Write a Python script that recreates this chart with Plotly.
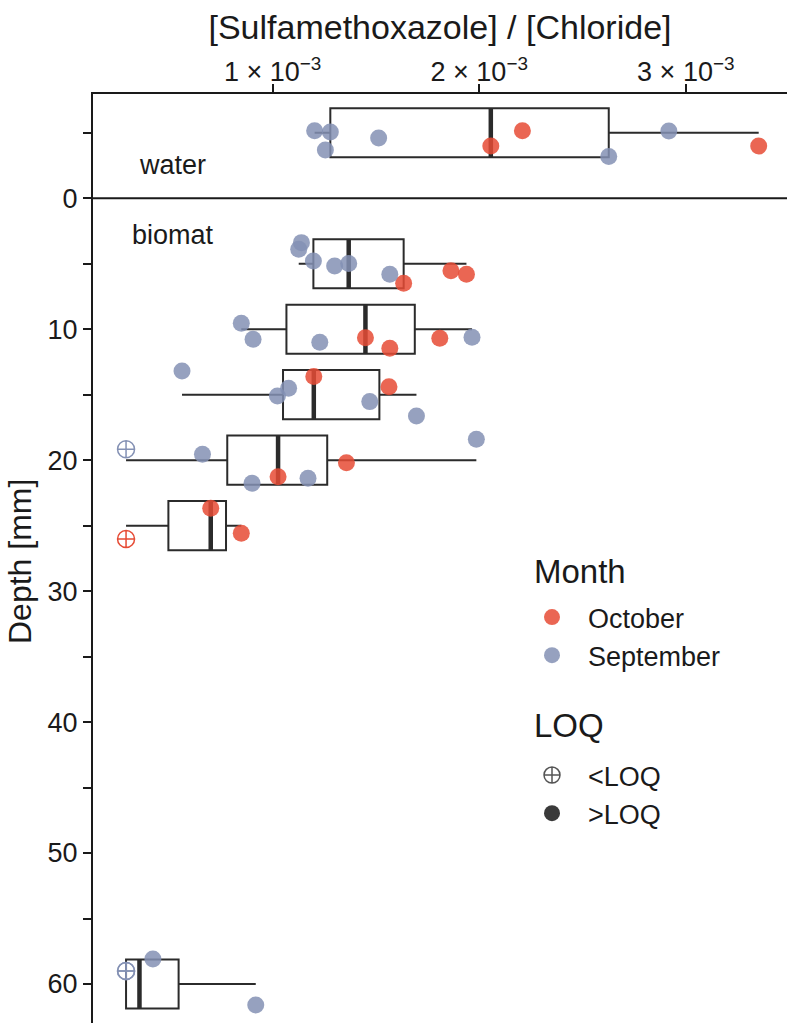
import numpy as np
import plotly.graph_objects as go

# ---------------- data ----------------
# group centre positions on the depth axis (water is drawn above the surface)
group_names = ["water", "5 mm", "10 mm", "15 mm", "20 mm", "25 mm", "60 mm"]
group_depth = [-5, 5, 10, 15, 20, 25, 60]

# individual samples: group, ratio, plotted (jittered) depth, month, LOQ flag
pt_group = (["water"] * 9 + ["5 mm"] * 9 + ["10 mm"] * 7 + ["15 mm"] * 7
            + ["20 mm"] * 7 + ["25 mm"] * 3 + ["60 mm"] * 4)
pt_ratio = [
    1.203e-3, 1.279e-3, 1.255e-3, 1.513e-3, 2.627e-3, 2.918e-3, 2.056e-3, 2.209e-3, 3.353e-3,
    1.139e-3, 1.126e-3, 1.197e-3, 1.300e-3, 1.368e-3, 1.567e-3, 1.634e-3, 1.863e-3, 1.938e-3,
    0.848e-3, 0.905e-3, 1.228e-3, 1.965e-3, 1.449e-3, 1.567e-3, 1.809e-3,
    0.561e-3, 1.023e-3, 1.077e-3, 1.470e-3, 1.696e-3, 1.199e-3, 1.563e-3,
    0.290e-3, 0.660e-3, 0.900e-3, 1.171e-3, 1.986e-3, 1.026e-3, 1.357e-3,
    0.290e-3, 0.700e-3, 0.848e-3,
    0.290e-3, 0.290e-3, 0.420e-3, 0.918e-3,
]
pt_depth = [
    -5.16, -5.06, -3.69, -4.60, -3.18, -5.14, -3.99, -5.16, -3.99,
    3.39, 3.89, 4.79, 5.17, 4.99, 5.80, 6.49, 5.53, 5.80,
    9.55, 10.77, 11.00, 10.61, 10.65, 11.45, 10.69,
    13.19, 15.10, 14.51, 15.53, 16.62, 13.62, 14.39,
    19.17, 19.55, 21.76, 21.38, 18.40, 21.26, 20.19,
    26.02, 23.67, 25.58,
    59.01, 59.01, 58.09, 61.60,
]
pt_month = (["September"] * 6 + ["October"] * 3
            + ["September"] * 6 + ["October"] * 3
            + ["September"] * 4 + ["October"] * 3
            + ["September"] * 5 + ["October"] * 2
            + ["September"] * 5 + ["October"] * 2
            + ["October"] * 3
            + ["September"] * 4)
pt_loq = ([">LOQ"] * 9 + [">LOQ"] * 9 + [">LOQ"] * 7 + [">LOQ"] * 7
          + ["<LOQ"] + [">LOQ"] * 6
          + ["<LOQ"] + [">LOQ"] * 2
          + ["<LOQ"] * 2 + [">LOQ"] * 2)

x_tick_vals = [1e-3, 2e-3, 3e-3]
x_tick_text = ["1 × 10<sup>−3</sup>", "2 × 10<sup>−3</sup>", "3 × 10<sup>−3</sup>"]
y_tick_vals = [0, 10, 20, 30, 40, 50, 60]
y_tick_text = ["0", "10", "20", "30", "40", "50", "60"]
y_minor_vals = [-5, 5, 15, 25, 35, 45, 55]

month_colors = {"October": "#E64B35", "September": "#8491B4"}

FONT = "Liberation Sans, Arial, Helvetica, sans-serif"
INK = "#1a1a1a"
BOX_W = 3.75

# plot-area geometry (px) used to place legend blocks
L, R, T, B = 93, 8, 94, 0
PW, PH = 795 - L - R, 1023 - T - B


def px_to_paper(xp, yp):
    return (xp - L) / PW, 1 - (yp - T) / PH


# ---------------- box statistics (ggplot style) ----------------
ratio = np.array(pt_ratio)
groups = np.array(pt_group)
q1s, meds, q3s, los, his = [], [], [], [], []
for g in group_names:
    v = np.sort(ratio[groups == g])
    q1, med, q3 = np.percentile(v, [25, 50, 75])
    iqr = q3 - q1
    lo = v[v >= q1 - 1.5 * iqr].min()
    hi = v[v <= q3 + 1.5 * iqr].max()
    q1s.append(q1); meds.append(med); q3s.append(q3); los.append(lo); his.append(hi)

fig = go.Figure()

fig.add_trace(go.Box(
    y=group_depth, q1=q1s, median=meds, q3=q3s, lowerfence=los, upperfence=his,
    orientation="h", width=BOX_W, whiskerwidth=0, boxpoints=False,
    fillcolor="rgba(255,255,255,0)", line=dict(color="#2b2b2b", width=2),
    showlegend=False, hoverinfo="skip",
))

# thick median bars
mx, my = [], []
for d, m in zip(group_depth, meds):
    mx += [m, m, None]
    my += [d - BOX_W / 2, d + BOX_W / 2, None]
fig.add_trace(go.Scatter(x=mx, y=my, mode="lines", line=dict(color="#2b2b2b", width=4.5),
                         showlegend=False, hoverinfo="skip"))

# points
month_arr = np.array(pt_month)
loq_arr = np.array(pt_loq)
depth_arr = np.array(pt_depth)
for loq in [">LOQ", "<LOQ"]:
    for month in ["October", "September"]:
        sel = (month_arr == month) & (loq_arr == loq)
        if not sel.any():
            continue
        filled = loq == ">LOQ"
        fig.add_trace(go.Scatter(
            x=ratio[sel], y=depth_arr[sel], mode="markers",
            name=month, legend="legend", showlegend=filled,
            marker=dict(
                size=17,
                symbol="circle" if filled else "circle-cross-open",
                color=month_colors[month],
                opacity=0.85 if filled else 1.0,
                line=dict(width=0 if filled else 1.5, color=month_colors[month]),
            ),
            hoverinfo="skip",
        ))

# LOQ legend keys
fig.add_trace(go.Scatter(x=[None], y=[None], mode="markers", name="<LOQ", legend="legend2",
                         marker=dict(size=17, symbol="circle-cross-open", color="#555555",
                                     line=dict(width=1.5, color="#555555"))))
fig.add_trace(go.Scatter(x=[None], y=[None], mode="markers", name=">LOQ", legend="legend2",
                         marker=dict(size=17, symbol="circle", color="#3a3a3a")))

# surface line
fig.add_shape(type="line", xref="paper", x0=0, x1=1, yref="y", y0=0, y1=0,
              line=dict(color=INK, width=2))

fig.add_annotation(x=0.341e-3, y=-2.54, text="water", showarrow=False, xanchor="left",
                   yanchor="middle", font=dict(family=FONT, size=27, color=INK))
fig.add_annotation(x=0.307e-3, y=2.8, text="biomat", showarrow=False, xanchor="left",
                   yanchor="middle", font=dict(family=FONT, size=27, color=INK))

ax, ay = px_to_paper(20, 562)
fig.add_annotation(xref="paper", yref="paper", x=ax, y=ay, text="Depth [mm]",
                   textangle=-90, showarrow=False, xanchor="center", yanchor="middle",
                   font=dict(family=FONT, size=32, color=INK))

# legend titles
tx, ty = px_to_paper(532, 571)
fig.add_annotation(xref="paper", yref="paper", x=tx, y=ty, text="Month", showarrow=False,
                   xanchor="left", yanchor="middle", font=dict(family=FONT, size=33, color=INK))
tx, ty = px_to_paper(532, 725)
fig.add_annotation(xref="paper", yref="paper", x=tx, y=ty, text="LOQ", showarrow=False,
                   xanchor="left", yanchor="middle", font=dict(family=FONT, size=33, color=INK))

lx1, ly1 = px_to_paper(516, 593)
lx2, ly2 = px_to_paper(516, 751)

fig.update_layout(
    width=795, height=1023,
    margin=dict(l=L, r=R, t=T, b=B),
    plot_bgcolor="white", paper_bgcolor="white",
    boxmode="overlay",
    font=dict(family=FONT, size=26, color=INK),
    xaxis=dict(
        side="top", range=[0.13e-3, 3.49e-3],
        tickvals=x_tick_vals, ticktext=x_tick_text,
        ticks="outside", ticklen=8, tickwidth=2, tickcolor=INK,
        ticklabelstandoff=-8,
        showline=True, linecolor=INK, linewidth=2,
        showgrid=False, zeroline=False,
        tickfont=dict(family=FONT, size=27, color=INK),
        title=dict(text="[Sulfamethoxazole] / [Chloride]",
                   font=dict(family=FONT, size=34, color=INK), standoff=3),
    ),
    yaxis=dict(
        range=[62.98, -7.96],
        tickvals=y_tick_vals, ticktext=y_tick_text,
        ticks="outside", ticklen=8, tickwidth=2, tickcolor=INK,
        minor=dict(tickvals=y_minor_vals, ticks="outside", ticklen=8, tickwidth=2, tickcolor=INK),
        showline=True, linecolor=INK, linewidth=2,
        showgrid=False, zeroline=False,
        tickfont=dict(family=FONT, size=27, color=INK),
    ),
    legend=dict(
        x=lx1, y=ly1, xanchor="left", yanchor="top",
        font=dict(family=FONT, size=27, color=INK),
        bgcolor="rgba(0,0,0,0)", tracegroupgap=0, itemwidth=62,
    ),
    legend2=dict(
        x=lx2, y=ly2, xanchor="left", yanchor="top",
        font=dict(family=FONT, size=27, color=INK),
        bgcolor="rgba(0,0,0,0)", tracegroupgap=0, itemwidth=62,
    ),
)

fig.write_html("out.html")
